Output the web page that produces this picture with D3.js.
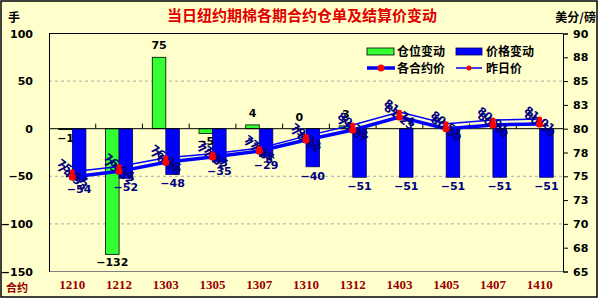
<!DOCTYPE html>
<html>
<head>
<meta charset="utf-8">
<script src="https://cdn.jsdelivr.net/npm/d3@7"></script>
<style>
  body { margin: 0; background: #fff; }
  text { font-family: "DejaVu Sans", sans-serif; }
  .cjk { font-family: "Noto Sans CJK SC", sans-serif; font-weight: bold; }
</style>
</head>
<body>
<div id="chart"></div>
<script>
// data
var contracts = ["1210", "1212", "1303", "1305", "1307", "1310", "1312", "1403", "1405", "1407", "1410"];
var stockChange = [-1, -132, 75, -5, 4, 0, 3, null, null, null, null];   // 仓位变动 (手)
var priceChange = [-54, -52, -48, -35, -29, -40, -51, -51, -51, -51, -51]; // 价格变动
var priceToday = [74.93, 75.52, 76.48, 77.02, 77.66, 78.82, 79.87, 81.23, 80.00, 80.40, 80.50]; // 各合约价
var priceYday = [75.47, 76.04, 76.96, 77.37, 77.95, 79.22, 80.38, 81.74, 80.51, 80.91, 81.01];   // 昨日价
var leftTicks = [100, 50, 0, -50, -100, -150];
var rightTicks = [90, 87.5, 85, 82.5, 80, 77.5, 75, 72.5, 70, 67.5, 65];
var gridTicks = [50, -50, -100];

var width = 600, height = 301;
var plot = {left: 49, right: 563, top: 33.5, bottom: 271.5};

var svg = d3.select("#chart").append("svg")
  .attr("width", width)
  .attr("height", height);

// background + frame
svg.append("rect")
  .attr("x", 1).attr("y", 1)
  .attr("width", 596).attr("height", 296)
  .attr("fill", "#FFFFCC")
  .attr("stroke", "#000")
  .attr("stroke-width", 1.5);

var x = d3.scaleBand().domain(contracts).range([plot.left, plot.right]);
var yL = d3.scaleLinear().domain([-150, 100]).range([plot.bottom, plot.top]);
var yR = d3.scaleLinear().domain([65, 90]).range([plot.bottom, plot.top]);
var barW = x.bandwidth() * 0.29;
function cx(i) { return x(contracts[i]) + x.bandwidth() / 2; }
function minus(v) { return v < 0 ? "\u2212" + Math.abs(v) : "" + v; }

// gridlines
svg.selectAll(".grid").data(gridTicks).enter()
  .append("line")
  .attr("class", "grid")
  .attr("x1", plot.left).attr("x2", plot.right)
  .attr("y1", function(d) { return yL(d); })
  .attr("y2", function(d) { return yL(d); })
  .attr("stroke", "#aaa")
  .attr("stroke-dasharray", "3,3");

// plot border top / bottom
svg.append("line")
  .attr("x1", plot.left).attr("x2", plot.right)
  .attr("y1", plot.top).attr("y2", plot.top)
  .attr("stroke", "#000");
svg.append("line")
  .attr("x1", plot.left).attr("x2", plot.right)
  .attr("y1", plot.bottom).attr("y2", plot.bottom)
  .attr("stroke", "#808080");

// left axis
var gL = svg.append("g")
  .attr("transform", "translate(" + plot.left + ",0)")
  .call(d3.axisLeft(yL).tickValues(leftTicks).tickSize(0).tickPadding(16).tickFormat(minus));
gL.select(".domain").attr("stroke", "#000");
gL.selectAll("text").attr("font-size", 11).attr("font-weight", "bold").attr("fill", "#000");

// right axis
var gR = svg.append("g")
  .attr("transform", "translate(" + plot.right + ",0)")
  .call(d3.axisRight(yR).tickValues(rightTicks).tickSize(5).tickPadding(5)
    .tickFormat(function(d) { return Math.round(d); }));
gR.select(".domain").attr("stroke", "#000");
gR.selectAll("line").attr("stroke", "#000");
gR.selectAll("text").attr("font-size", 11).attr("font-weight", "bold").attr("fill", "#000");

// category labels
var gX = svg.append("g")
  .attr("transform", "translate(0," + plot.bottom + ")")
  .call(d3.axisBottom(x).tickSize(0).tickPadding(8));
gX.select(".domain").remove();
gX.selectAll("text")
  .style("font-family", "'Liberation Serif', serif")
  .attr("font-size", 13)
  .attr("font-weight", "bold")
  .attr("fill", "#990000");

// bars
svg.selectAll(".bar-stock").data(stockChange).enter()
  .append("rect")
  .attr("class", "bar-stock")
  .attr("x", function(d, i) { return cx(i) - barW; })
  .attr("y", function(d) { return yL(Math.max(0, d || 0)); })
  .attr("width", barW)
  .attr("height", function(d) { return Math.abs(yL(d || 0) - yL(0)); })
  .attr("display", function(d) { return d === null ? "none" : null; })
  .attr("fill", "#33FF33")
  .attr("stroke", "#000")
  .attr("stroke-width", 0.8);

svg.selectAll(".bar-price").data(priceChange).enter()
  .append("rect")
  .attr("class", "bar-price")
  .attr("x", function(d, i) { return cx(i); })
  .attr("y", function(d) { return yL(Math.max(0, d)); })
  .attr("width", barW)
  .attr("height", function(d) { return Math.abs(yL(d) - yL(0)); })
  .attr("fill", "#0000FF")
  .attr("stroke", "#000060")
  .attr("stroke-width", 0.8);

// zero line with category ticks
svg.append("line")
  .attr("x1", plot.left).attr("x2", plot.right)
  .attr("y1", yL(0)).attr("y2", yL(0))
  .attr("stroke", "#000");
svg.selectAll(".cat-tick").data(contracts.slice(1)).enter()
  .append("line")
  .attr("class", "cat-tick")
  .attr("x1", function(d) { return x(d); })
  .attr("x2", function(d) { return x(d); })
  .attr("y1", yL(0)).attr("y2", yL(0) - 5)
  .attr("stroke", "#000");

// bar value labels
stockChange.forEach(function(d, i) {
  if (d === null) return;
  svg.append("text")
    .attr("x", cx(i) - barW / 2)
    .attr("y", d >= 0 ? yL(d) - 8 : yL(d) + 12)
    .attr("text-anchor", "middle")
    .attr("font-size", 11)
    .attr("font-weight", "bold")
    .attr("fill", "#000")
    .text(minus(d));
});
priceChange.forEach(function(d, i) {
  svg.append("text")
    .attr("x", cx(i) + barW / 2)
    .attr("y", yL(d) + 13)
    .attr("text-anchor", "middle")
    .attr("font-size", 11)
    .attr("font-weight", "bold")
    .attr("fill", "#000080")
    .text(minus(d));
});

// price lines
var line = d3.line()
  .x(function(d, i) { return cx(i); })
  .y(function(d) { return yR(d); });

svg.append("path").datum(priceYday)
  .attr("d", line).attr("fill", "none")
  .attr("stroke", "#0000FF").attr("stroke-width", 1.5);
svg.append("path").datum(priceToday)
  .attr("d", line).attr("fill", "none")
  .attr("stroke", "#0000FF").attr("stroke-width", 3.5);

// rotated price labels
function priceLabels(arr) {
  arr.forEach(function(d, i) {
    svg.append("text")
      .attr("transform", "translate(" + cx(i) + "," + yR(d) + ") rotate(38)")
      .attr("text-anchor", "middle")
      .attr("dy", "0.35em")
      .attr("font-size", 11)
      .attr("font-weight", "bold")
      .attr("fill", "#000080")
      .text(d.toFixed(2));
  });
}
priceLabels(priceYday);
priceLabels(priceToday);

svg.selectAll(".dot-y").data(priceYday).enter()
  .append("circle")
  .attr("cx", function(d, i) { return cx(i); })
  .attr("cy", function(d) { return yR(d); })
  .attr("r", 2.5).attr("fill", "#FF0000");
svg.selectAll(".dot-t").data(priceToday).enter()
  .append("circle")
  .attr("cx", function(d, i) { return cx(i); })
  .attr("cy", function(d) { return yR(d); })
  .attr("r", 3.5).attr("fill", "#FF0000");

// titles
svg.append("text").attr("class", "cjk")
  .attr("x", 302).attr("y", 21)
  .attr("text-anchor", "middle")
  .attr("font-size", 15)
  .attr("fill", "#E00000")
  .text("当日纽约期棉各期合约仓单及结算价变动");
svg.append("text").attr("class", "cjk")
  .attr("x", 8).attr("y", 22)
  .attr("font-size", 12).attr("fill", "#000")
  .text("手");
svg.append("text").attr("class", "cjk")
  .attr("x", 596).attr("y", 22)
  .attr("text-anchor", "end")
  .attr("font-size", 12).attr("fill", "#000")
  .text("美分/磅");
svg.append("text").attr("class", "cjk")
  .attr("x", 6).attr("y", 292)
  .attr("font-size", 11).attr("fill", "#990000")
  .text("合约");

// legend
var legend = svg.append("g");
legend.append("rect").attr("x", 367).attr("y", 48).attr("width", 27).attr("height", 7)
  .attr("fill", "#33FF33").attr("stroke", "#000").attr("stroke-width", 0.8);
legend.append("rect").attr("x", 456).attr("y", 48).attr("width", 26).attr("height", 7)
  .attr("fill", "#0000FF").attr("stroke", "#000060").attr("stroke-width", 0.8);
legend.append("line").attr("x1", 367).attr("x2", 395).attr("y1", 68).attr("y2", 68)
  .attr("stroke", "#0000FF").attr("stroke-width", 3.5);
legend.append("circle").attr("cx", 381).attr("cy", 68).attr("r", 3.5).attr("fill", "#FF0000");
legend.append("line").attr("x1", 456).attr("x2", 482).attr("y1", 68).attr("y2", 68)
  .attr("stroke", "#0000FF").attr("stroke-width", 1.5);
legend.append("circle").attr("cx", 469).attr("cy", 68).attr("r", 2.5).attr("fill", "#FF0000");
var legendText = [["仓位变动", 397, 56], ["价格变动", 486, 56], ["各合约价", 397, 73], ["昨日价", 486, 73]];
legend.selectAll("text").data(legendText).enter()
  .append("text").attr("class", "cjk")
  .attr("x", function(d) { return d[1]; })
  .attr("y", function(d) { return d[2]; })
  .attr("font-size", 12).attr("fill", "#000")
  .text(function(d) { return d[0]; });
</script>
</body>
</html>
